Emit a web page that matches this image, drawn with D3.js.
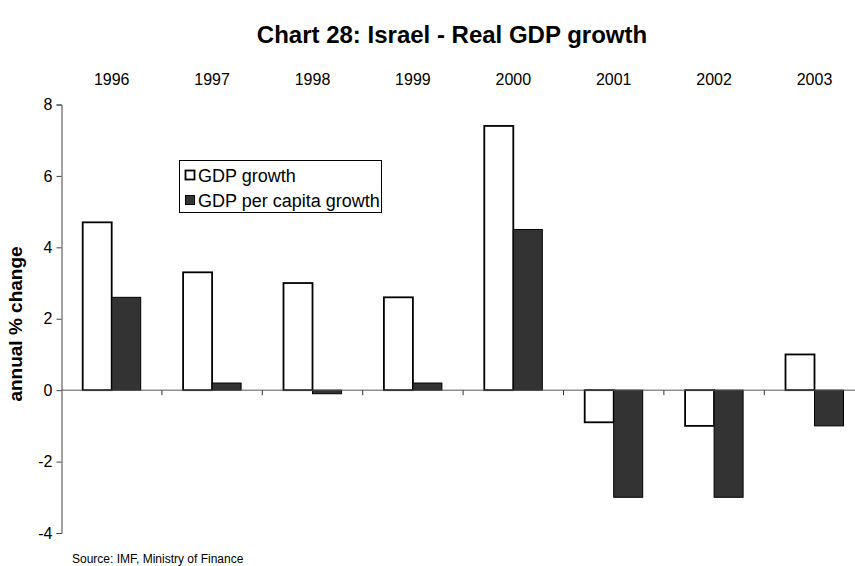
<!DOCTYPE html>
<html>
<head>
<meta charset="utf-8">
<script src="https://cdn.jsdelivr.net/npm/d3@7"></script>
<style>
  body { margin: 0; background: #fff; }
  svg { display: block; font-family: "Liberation Sans", Arial, sans-serif; }
</style>
</head>
<body>
<svg id="chart" width="855" height="566"></svg>
<script>
// Israel: annual % change in real GDP and GDP per capita
const years = ["1996", "1997", "1998", "1999", "2000", "2001", "2002", "2003"];
const seriesNames = ["GDP growth", "GDP per capita growth"];
const gdpGrowth = [4.7, 3.3, 3.0, 2.6, 7.4, -0.9, -1.0, 1.0];
const gdpPerCapitaGrowth = [2.6, 0.2, -0.1, 0.2, 4.5, -3.0, -3.0, -1.0];
const yTicks = [-4, -2, 0, 2, 4, 6, 8];

const seriesFill = ["#ffffff", "#333333"];
const seriesValues = [gdpGrowth, gdpPerCapitaGrowth];

const svg = d3.select("#chart");

const axisX = 61.5;
const x = d3.scaleBand().domain(years).range([axisX, axisX + 8 * 100.4]).paddingInner(0).paddingOuter(0);
const xSub = d3.scaleBand().domain(seriesNames).range([0, x.bandwidth()]).paddingInner(0).paddingOuter(0.731);
const y = d3.scaleLinear().domain([-4, 8]).range([533, 104.5]);

// Title
svg.append("text")
  .attr("x", 452).attr("y", 43)
  .attr("text-anchor", "middle")
  .attr("font-size", 24).attr("font-weight", "bold")
  .text("Chart 28: Israel - Real GDP growth");

// Category labels along the top
svg.append("g").selectAll("text")
  .data(years).join("text")
  .attr("x", d => x(d) + x.bandwidth() / 2)
  .attr("y", 85)
  .attr("text-anchor", "middle")
  .attr("font-size", 16)
  .text(d => d);

// Bars
const rows = years.map((yr, i) => seriesNames.map((s, j) => ({ yr, s, j, v: seriesValues[j][i] })));
svg.append("g").selectAll("rect")
  .data(rows.flat()).join("rect")
  .attr("x", d => x(d.yr) + xSub(d.s))
  .attr("width", xSub.bandwidth())
  .attr("y", d => y(Math.max(0, d.v)))
  .attr("height", d => Math.abs(y(d.v) - y(0)))
  .attr("fill", d => seriesFill[d.j])
  .attr("stroke", "#000")
  .attr("stroke-width", d => d.j === 0 ? 1.8 : 1);

// Zero line with category tick marks
const gx = svg.append("g").attr("transform", `translate(0,${y(0)})`);
gx.append("line").attr("x1", axisX).attr("x2", 855).attr("y1", 0).attr("y2", 0)
  .attr("stroke", "#555").attr("stroke-width", 1);
gx.selectAll("line.tick")
  .data(years.slice(1)).join("line")
  .attr("class", "tick")
  .attr("x1", d => x(d)).attr("x2", d => x(d))
  .attr("y1", 0).attr("y2", 5)
  .attr("stroke", "#333").attr("stroke-width", 1);

// Value axis
const yAxis = d3.axisLeft(y).tickValues(yTicks).tickSize(5).tickPadding(4).tickFormat(d => String(d));
const gy = svg.append("g").attr("transform", `translate(${axisX},0)`).call(yAxis);
gy.select(".domain").attr("stroke", "#444");
gy.selectAll(".tick line").attr("stroke", "#444");
gy.selectAll(".tick text").attr("font-size", 16).attr("fill", "#000")
  .attr("font-family", "Liberation Sans, Arial, sans-serif");

// Axis title
svg.append("text")
  .attr("transform", `translate(22,${324}) rotate(-90)`)
  .attr("text-anchor", "middle")
  .attr("font-size", 19).attr("font-weight", "bold")
  .text("annual % change");

// Legend
const lg = svg.append("g");
lg.append("rect").attr("x", 179.5).attr("y", 160.5).attr("width", 202).attr("height", 52)
  .attr("fill", "#fff").attr("stroke", "#000").attr("stroke-width", 1);
seriesNames.forEach((name, j) => {
  const cy = 175 + j * 25;
  lg.append("rect").attr("x", 185.5).attr("y", cy - 4.5).attr("width", 9).attr("height", 9)
    .attr("fill", seriesFill[j]).attr("stroke", "#000").attr("stroke-width", j === 0 ? 1.8 : 1);
  lg.append("text").attr("x", 198).attr("y", cy + 6.7)
    .attr("font-size", 18).text(name);
});

// Source note
svg.append("text")
  .attr("x", 72).attr("y", 563)
  .attr("font-size", 12)
  .text("Source: IMF, Ministry of Finance");
</script>
</body>
</html>
